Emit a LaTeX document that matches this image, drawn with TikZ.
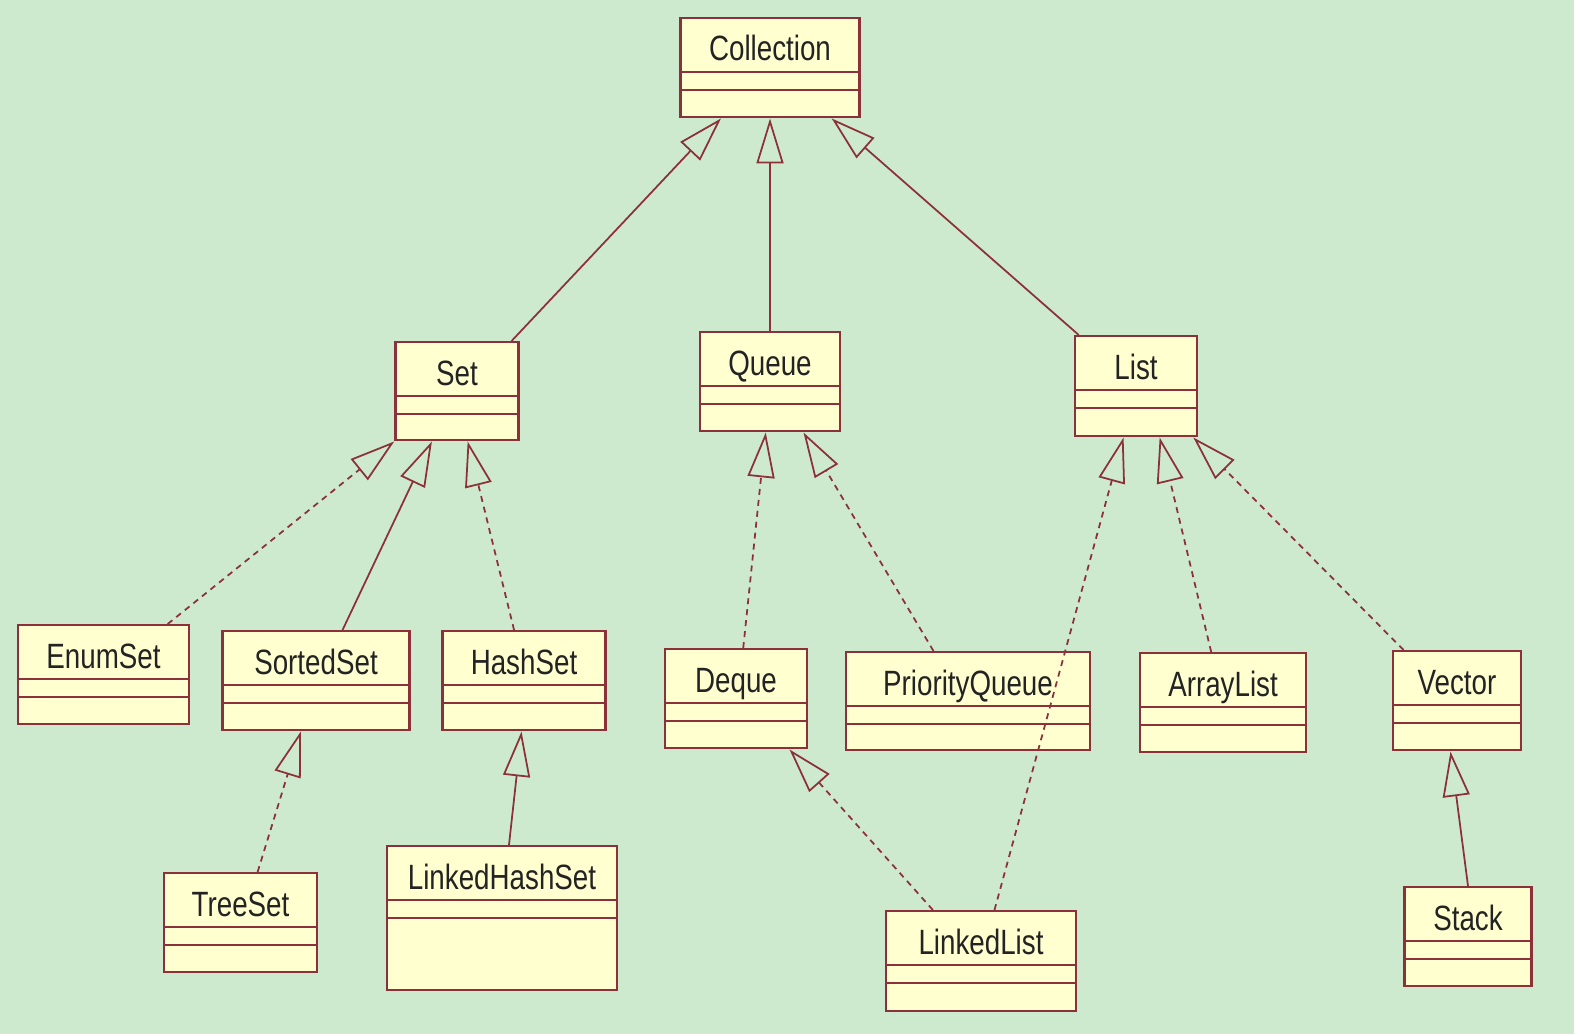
\documentclass[tikz,border=0pt]{standalone}
\usepackage{fontspec}
\setmainfont{Liberation Sans}[FakeStretch=0.79]
\usepackage{tikz}
\usetikzlibrary{arrows.meta,calc}
\definecolor{bggreen}{RGB}{205,234,207}
\definecolor{boxfill}{RGB}{255,255,208}
\definecolor{umlred}{RGB}{140,48,58}
\definecolor{umltext}{RGB}{35,35,35}
\tikzset{
  umlbox/.style={rectangle, draw=umlred, fill=boxfill, line width=1.4pt, inner sep=0pt},
  umlname/.style={text=umltext, font=\fontsize{20}{24}\selectfont, inner sep=0pt, anchor=base},
  umlsep/.style={umlred, line width=1.2pt},
  generalize/.style={-{Triangle[open, length=0.9cm, width=0.54cm]}, umlred, line width=1pt},
  realize/.style={generalize, dash pattern=on 0.12cm off 0.1cm},
}
% class box: name, centre x, top y, width, height, text
\newcommand{\umlclass}[6]{%
  \node[umlbox, anchor=north, minimum width=#4*0.02cm, minimum height=#5*0.02cm] (#1) at (#2,#3) {};
  \draw[umlsep] ($(#1.north west)+(0,-55)$) -- ($(#1.north east)+(0,-55)$);
  \draw[umlsep] ($(#1.north west)+(0,-73)$) -- ($(#1.north east)+(0,-73)$);
  \node[umlname] (#1-name) at ($(#1.north)+(0,-44)$) {#6};
}

\begin{document}
\begin{tikzpicture}[x=0.02cm, y=0.02cm]
    % background
    \fill[bggreen] (0,0) rectangle (1574,-1034);
    \useasboundingbox (0,0) rectangle (1574,-1034);
    % classes
    \umlclass{collection}{770}{-17}{179}{99}{Collection}
    \umlclass{set}{457}{-341}{123}{98}{Set}
    \umlclass{queue}{770}{-331}{140}{99}{Queue}
    \umlclass{list}{1136}{-335}{122}{100}{List}
    \umlclass{enumset}{103.5}{-624}{171}{99}{EnumSet}
    \umlclass{sortedset}{316}{-630}{187}{99}{SortedSet}
    \umlclass{hashset}{524}{-630}{163}{99}{HashSet}
    \umlclass{deque}{736}{-648}{142}{99}{Deque}
    \umlclass{priorityqueue}{968}{-651}{244}{98}{PriorityQueue}
    \umlclass{arraylist}{1223}{-652}{166}{99}{ArrayList}
    \umlclass{vector}{1457}{-650}{128}{99}{Vector}
    \umlclass{treeset}{240.5}{-872}{153}{99}{TreeSet}
    \umlclass{linkedhashset}{502}{-845}{230}{144}{LinkedHashSet}
    \umlclass{linkedlist}{981}{-910}{190}{100}{LinkedList}
    \umlclass{stack}{1468}{-886}{127}{99}{Stack}
    % first level
    \draw[generalize] ($(set.north west)!0.935!(set.north east)$)
      -- ($(collection.south west)!0.23!(collection.south east)$);
    \draw[generalize] (queue.north) -- (collection.south);
    \draw[generalize] ($(list.north west)!0.04!(list.north east)$)
      -- ($(collection.south west)!0.84!(collection.south east)$);
    % set branch
    \draw[realize] ($(enumset.north west)!0.87!(enumset.north east)$) -- (set.south west);
    \draw[generalize] ($(sortedset.north west)!0.64!(sortedset.north east)$)
      -- ($(set.south west)!0.30!(set.south east)$);
    \draw[realize] ($(hashset.north west)!0.44!(hashset.north east)$)
      -- ($(set.south west)!0.585!(set.south east)$);
    \draw[realize] ($(treeset.north west)!0.61!(treeset.north east)$)
      -- ($(sortedset.south west)!0.42!(sortedset.south east)$);
    \draw[generalize] ($(linkedhashset.north west)!0.53!(linkedhashset.north east)$)
      -- ($(hashset.south west)!0.485!(hashset.south east)$);
    % queue branch
    \draw[realize] ($(deque.north west)!0.55!(deque.north east)$)
      -- ($(queue.south west)!0.47!(queue.south east)$);
    \draw[realize] ($(priorityqueue.north west)!0.36!(priorityqueue.north east)$)
      -- ($(queue.south west)!0.735!(queue.south east)$);
    \draw[realize] ($(linkedlist.north west)!0.25!(linkedlist.north east)$)
      -- ($(deque.south west)!0.87!(deque.south east)$);
    % list branch
    \draw[realize] ($(linkedlist.north west)!0.57!(linkedlist.north east)$)
      -- ($(list.south west)!0.40!(list.south east)$);
    \draw[realize] ($(arraylist.north west)!0.43!(arraylist.north east)$)
      -- ($(list.south west)!0.69!(list.south east)$);
    \draw[realize] ($(vector.north west)!0.09!(vector.north east)$)
      -- ($(list.south west)!0.96!(list.south east)$);
    \draw[generalize] (stack.north) -- ($(vector.south west)!0.45!(vector.south east)$);
\end{tikzpicture}
\end{document}
